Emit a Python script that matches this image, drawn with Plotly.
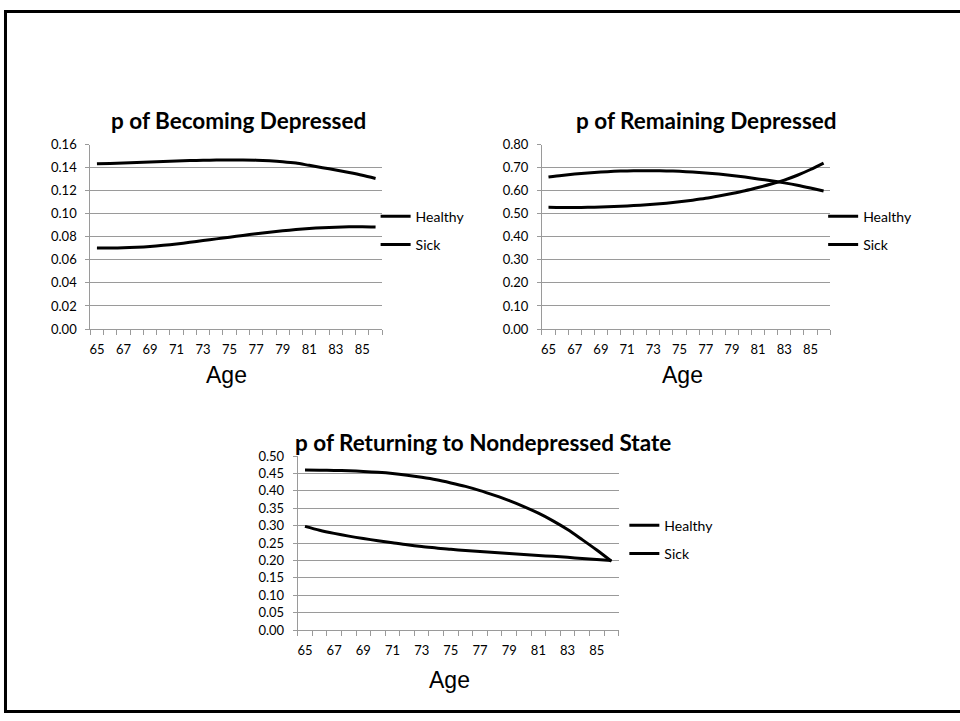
import plotly.graph_objects as go

# Ages on the horizontal axis
ages = list(range(65, 87))
age_tick_labels = [str(a) for a in range(65, 86, 2)]

# p of Becoming Depressed
becoming_healthy = [0.0702, 0.0702, 0.0704, 0.0709, 0.0716, 0.0726, 0.0738, 0.0752,
                    0.0767, 0.0782, 0.0797, 0.0812, 0.0826, 0.0840, 0.0852, 0.0863,
                    0.0872, 0.0879, 0.0884, 0.0887, 0.0887, 0.0885]
becoming_sick = [0.1433, 0.1437, 0.1441, 0.1445, 0.1449, 0.1453, 0.1457, 0.1461,
                 0.1464, 0.1466, 0.1467, 0.1467, 0.1465, 0.1460, 0.1452, 0.1440,
                 0.1420, 0.1400, 0.1380, 0.1358, 0.1334, 0.1306]

# p of Remaining Depressed
remaining_healthy = [0.528, 0.527, 0.527, 0.528, 0.529, 0.531, 0.534, 0.537,
                     0.541, 0.546, 0.552, 0.559, 0.567, 0.577, 0.588, 0.600,
                     0.614, 0.629, 0.646, 0.667, 0.692, 0.720]
remaining_sick = [0.659, 0.666, 0.672, 0.677, 0.681, 0.684, 0.686, 0.687,
                  0.687, 0.686, 0.684, 0.681, 0.677, 0.672, 0.666, 0.659,
                  0.651, 0.643, 0.634, 0.624, 0.612, 0.599]

# p of Returning to Nondepressed State
returning_healthy = [0.460, 0.4597, 0.459, 0.4578, 0.456, 0.4535, 0.450, 0.445,
                     0.439, 0.432, 0.423, 0.413, 0.401, 0.387, 0.372, 0.355,
                     0.336, 0.314, 0.289, 0.260, 0.230, 0.198]
returning_sick = [0.298, 0.287, 0.278, 0.270, 0.263, 0.257, 0.251, 0.245,
                  0.240, 0.236, 0.232, 0.229, 0.226, 0.223, 0.220, 0.217,
                  0.2145, 0.212, 0.209, 0.206, 0.203, 0.200]

W, H = 960, 721
GRID = "#9a9a9a"
TICK_FONT = dict(family="Lato, Carlito, sans-serif", size=13, color="#000000")


def px_x(v):
    return v / W


def px_y(v):
    return 1 - v / H


panels = [
    dict(title="p of Becoming Depressed", healthy=becoming_healthy, sick=becoming_sick,
         x=(89.4, 381.6), y=(328.3, 139.7), ymax=0.16, dtick=0.02,
         title_pos=(237.5, 115), age_pos=(226, 375), legend_pos=(375, 197)),
    dict(title="p of Remaining Depressed", healthy=remaining_healthy, sick=remaining_sick,
         x=(541.5, 830.0), y=(328.3, 139.7), ymax=0.80, dtick=0.10,
         title_pos=(706, 115), age_pos=(682, 375), legend_pos=(823, 197)),
    dict(title="p of Returning to Nondepressed State", healthy=returning_healthy,
         sick=returning_sick, x=(297.0, 618.3), y=(636.2, 458.3), ymax=0.50, dtick=0.05,
         title_pos=(482.5, 444), age_pos=(449, 687), legend_pos=(624, 513)),
]

fig = go.Figure()
layout = dict(
    width=W, height=H,
    margin=dict(l=0, r=0, t=0, b=0),
    paper_bgcolor="white", plot_bgcolor="white",
    showlegend=True,
)
annotations = []

for i, p in enumerate(panels, start=1):
    sfx = "" if i == 1 else str(i)
    xa, ya = "x" + sfx, "y" + sfx
    leg = "legend" + sfx
    for name, vals in (("Healthy", p["healthy"]), ("Sick", p["sick"])):
        fig.add_trace(go.Scatter(
            x=ages, y=vals, name=name, mode="lines",
            line=dict(color="black", width=3, shape="spline", smoothing=0.8),
            xaxis=xa, yaxis=ya, legend=leg, legendgroup=f"{name}{i}",
            hoverinfo="skip",
        ))

    layout["xaxis" + sfx] = dict(
        domain=[px_x(p["x"][0]), px_x(p["x"][1])],
        anchor=ya, range=[64.5, 86.5],
        tickmode="array", tickvals=list(range(65, 86, 2)), ticktext=age_tick_labels,
        ticks="", ticklabelstandoff=8, tickfont=TICK_FONT,
        showline=True, linecolor=GRID, linewidth=1,
        showgrid=False, zeroline=False, fixedrange=True,
        minor=dict(tickmode="linear", tick0=64.5, dtick=1, ticks="outside",
                   ticklen=5, tickcolor=GRID, tickwidth=1, showgrid=False),
    )
    layout["yaxis" + sfx] = dict(
        domain=[px_y(p["y"][0]), px_y(p["y"][1])],
        anchor=xa, range=[0, p["ymax"]],
        tickmode="linear", tick0=0, dtick=p["dtick"], tickformat=".2f",
        ticks="outside", ticklen=4, tickcolor=GRID, ticklabelstandoff=6,
        tickfont=TICK_FONT,
        showline=True, linecolor=GRID, linewidth=1,
        showgrid=True, gridcolor=GRID, gridwidth=1,
        zeroline=False, fixedrange=True,
    )
    layout[leg] = dict(
        x=px_x(p["legend_pos"][0]), y=px_y(p["legend_pos"][1]),
        xanchor="left", yanchor="top",
        bgcolor="rgba(0,0,0,0)", borderwidth=0,
        font=dict(family="Lato, Carlito, sans-serif", size=14, color="black"),
        itemwidth=30, tracegroupgap=7, traceorder="grouped",
    )
    annotations.append(dict(
        text=f"<b>{p['title']}</b>", showarrow=False,
        xref="paper", yref="paper",
        x=px_x(p["title_pos"][0]), y=px_y(p["title_pos"][1]),
        xanchor="center", yanchor="middle",
        font=dict(family="Lato, Carlito, sans-serif", size=22.5, color="black"),
    ))
    annotations.append(dict(
        text="Age", showarrow=False, xref="paper", yref="paper",
        x=px_x(p["age_pos"][0]), y=px_y(p["age_pos"][1]),
        xanchor="center", yanchor="middle",
        font=dict(family="Liberation Sans, Arial, sans-serif", size=23, color="black"),
    ))

layout["annotations"] = annotations
layout["shapes"] = [dict(
    type="rect", xref="paper", yref="paper",
    x0=px_x(4.5), x1=px_x(970), y0=px_y(719.5), y1=px_y(3.5),
    line=dict(color="black", width=3), fillcolor="rgba(0,0,0,0)", layer="above",
)]

fig.update_layout(**layout)
fig.write_html("out.html")
